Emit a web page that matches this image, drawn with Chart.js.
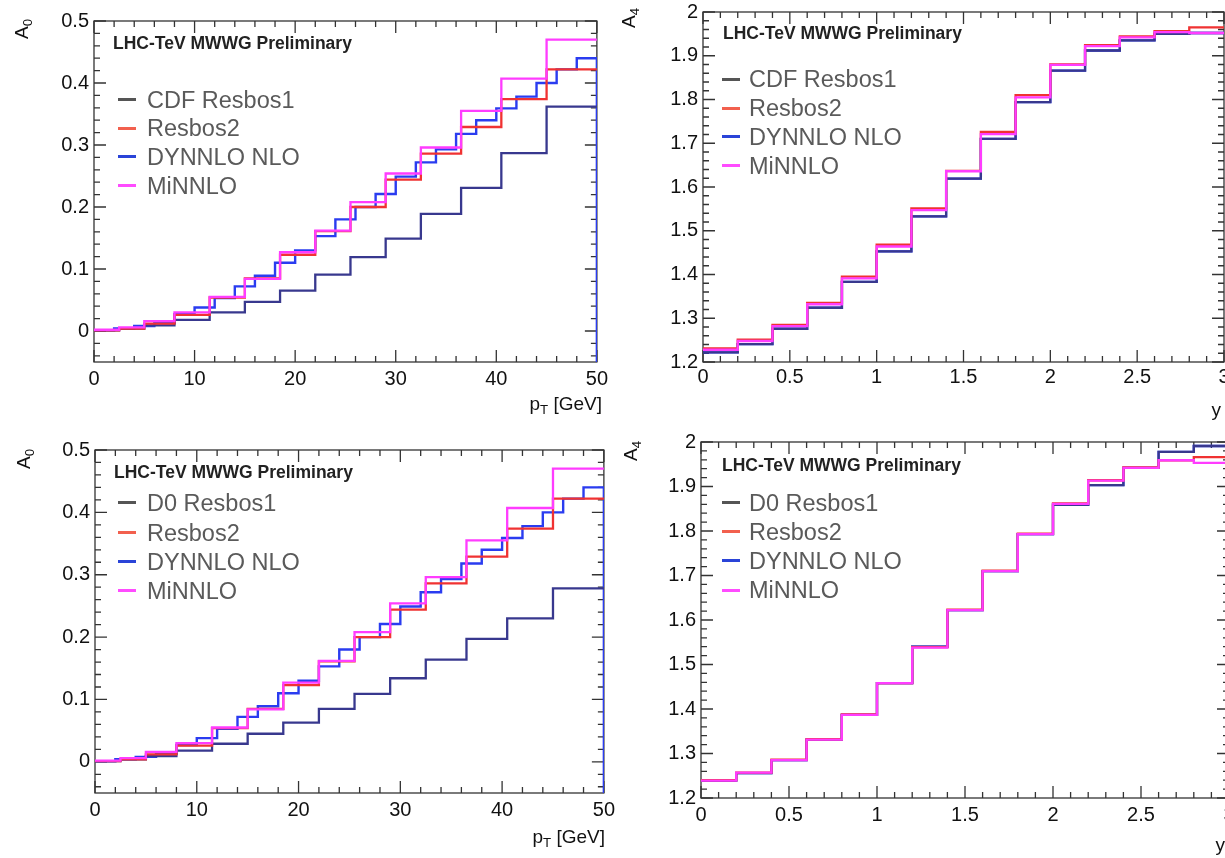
<!DOCTYPE html>
<html>
<head>
    <title>A0 / A4 comparison</title>
    <script src="https://cdn.jsdelivr.net/npm/chart.js"></script>
    <style>
        html, body {
            margin: 0;
            padding: 0;
            width: 1225px;
            height: 858px;
            overflow: hidden;
            background: #fff;
        }

        body {
            position: relative;
            font-family: "Liberation Sans", Arial, Helvetica, sans-serif;
        }

        canvas {
            position: absolute;
        }

        .tag {
            position: absolute;
            font-size: 17.5px;
            font-weight: bold;
            color: #222;
            white-space: nowrap;
            transform: translateY(-50%);
        }

        .entry {
            position: absolute;
            font-size: 23.5px;
            color: #5a5a5a;
            white-space: nowrap;
            transform: translateY(-50%);
        }

        .swatch {
            position: absolute;
            width: 18px;
            height: 3px;
        }

        .ytitle {
            position: absolute;
            font-size: 19px;
            color: #111;
            white-space: nowrap;
            transform: translate(-50%, -50%) rotate(-90deg);
        }

        .xtitle {
            position: absolute;
            font-size: 19px;
            color: #111;
            white-space: nowrap;
            transform: translate(-100%, -50%);
        }

        sub {
            font-size: 70%;
        }
    </style>
</head>

<body>
    <script>
        // bin edges
        const ptEdges = [0, 2.5, 5, 8, 11.5, 15, 18.5, 22, 25.5, 29, 32.5, 36.5, 40.5, 45, 50];
        const ptEdgesFine = [0, 2, 4, 6, 8, 10, 12, 14, 16, 18, 20, 22, 24, 26, 28, 30, 32, 34, 36, 38, 40, 42, 44, 46, 48, 50];
        const yEdges = [0, 0.2, 0.4, 0.6, 0.8, 1, 1.2, 1.4, 1.6, 1.8, 2, 2.2, 2.4, 2.6, 2.8, 3];

        // A0 vs pT
        const a0CdfResbos1 = [0.001, 0.004, 0.009, 0.018, 0.030, 0.047, 0.065, 0.091, 0.119, 0.149, 0.189, 0.231, 0.287, 0.362];
        const a0D0Resbos1 = [0.001, 0.004, 0.009, 0.018, 0.029, 0.045, 0.063, 0.085, 0.109, 0.134, 0.164, 0.197, 0.230, 0.278];
        const a0Resbos2 = [0.001, 0.004, 0.012, 0.026, 0.054, 0.085, 0.123, 0.161, 0.200, 0.244, 0.286, 0.329, 0.374, 0.422];
        const a0Minnlo = [0.002, 0.006, 0.016, 0.030, 0.055, 0.084, 0.127, 0.162, 0.208, 0.254, 0.296, 0.355, 0.407, 0.470];
        const a0Dynnlo = [0.001, 0.004, 0.008, 0.013, 0.027, 0.038, 0.053, 0.072, 0.089, 0.110, 0.130, 0.153, 0.180,
            0.200, 0.221, 0.249, 0.272, 0.293, 0.318, 0.340, 0.359, 0.378, 0.400, 0.422, 0.440];

        // A4 vs y, CDF
        const a4CdfResbos1 = [1.222, 1.241, 1.276, 1.324, 1.383, 1.453, 1.533, 1.619, 1.710, 1.794, 1.866, 1.912, 1.935, 1.950, 1.952];
        const a4CdfResbos2 = [1.231, 1.251, 1.285, 1.335, 1.395, 1.468, 1.551, 1.637, 1.726, 1.810, 1.880, 1.924, 1.944, 1.956, 1.965];
        const a4CdfDynnlo = [1.222, 1.241, 1.276, 1.324, 1.383, 1.453, 1.533, 1.619, 1.710, 1.794, 1.866, 1.912, 1.935, 1.950, 1.952];
        const a4CdfMinnlo = [1.228, 1.248, 1.282, 1.332, 1.391, 1.464, 1.547, 1.636, 1.721, 1.805, 1.879, 1.922, 1.942, 1.954, 1.952];

        // A4 vs y, D0
        const a4D0Resbos1 = [1.239, 1.256, 1.285, 1.331, 1.387, 1.458, 1.540, 1.622, 1.710, 1.793, 1.859, 1.903, 1.942, 1.978, 1.991];
        const a4D0Resbos2 = [1.240, 1.257, 1.286, 1.332, 1.388, 1.458, 1.539, 1.623, 1.711, 1.794, 1.862, 1.914, 1.943, 1.959, 1.966];
        const a4D0Dynnlo = [1.239, 1.256, 1.285, 1.331, 1.387, 1.458, 1.540, 1.622, 1.710, 1.793, 1.859, 1.903, 1.942, 1.978, 1.991];
        const a4D0Minnlo = [1.239, 1.257, 1.285, 1.331, 1.387, 1.458, 1.538, 1.622, 1.710, 1.793, 1.861, 1.913, 1.942, 1.959, 1.953];

        const FONT = '"Liberation Sans", Arial, Helvetica, sans-serif';
        const LEFT = 70, BOTTOM = 45, PAD = 15;

        const lineColor = { resbos1: '#38388e', resbos2: '#f03232', dynnlo: '#2a3cf0', minnlo: '#ff3cff' };
        const swatchColor = { resbos1: '#555555', resbos2: '#f2604e', dynnlo: '#2a44d8', minnlo: '#ff4cff' };
        // lower order is drawn on top
        const drawOrder = { minnlo: 0, resbos2: 1, resbos1: 2, dynnlo: 3 };

        const ptAxis = { min: 0, max: 50, step: 10, minor: 2 };
        const a0Axis = { min: -0.05, max: 0.5, step: 0.1, minor: 0.02 };
        const yAxis = { min: 0, max: 3, step: 0.5, minor: 0.1 };
        const a4Axis = { min: 1.2, max: 2, step: 0.1, minor: 0.02 };

        const panels = [
            {
                frame: { l: 94, t: 19, r: 598, b: 362 }, x: ptAxis, y: a0Axis, labelPad: 5,
                yTitle: { html: 'A<sub>0</sub>', cx: 23, cy: 29 },
                xTitle: { html: 'p<sub>T</sub> [GeV]', right: 602, cy: 405 },
                tag: { x: 113, y: 43 }, legend: { sw: 118, tx: 147, ys: [99.5, 128.3, 156.7, 185.7] },
                series: [
                    { key: 'resbos1', label: 'CDF Resbos1', edges: ptEdges, values: a0CdfResbos1 },
                    { key: 'resbos2', label: 'Resbos2', edges: ptEdges, values: a0Resbos2 },
                    { key: 'dynnlo', label: 'DYNNLO NLO', edges: ptEdgesFine, values: a0Dynnlo, drop: true },
                    { key: 'minnlo', label: 'MiNNLO', edges: ptEdges, values: a0Minnlo }
                ]
            },
            {
                frame: { l: 703, t: 10, r: 1224, b: 362 }, x: yAxis, y: a4Axis, labelPad: 3,
                yTitle: { html: 'A<sub>4</sub>', cx: 630, cy: 18 },
                xTitle: { html: 'y', right: 1221, cy: 410 },
                tag: { x: 723, y: 33 }, legend: { sw: 722, tx: 749, ys: [79, 108.3, 136.7, 165.7] },
                series: [
                    { key: 'resbos1', label: 'CDF Resbos1', edges: yEdges, values: a4CdfResbos1 },
                    { key: 'resbos2', label: 'Resbos2', edges: yEdges, values: a4CdfResbos2 },
                    { key: 'dynnlo', label: 'DYNNLO NLO', edges: yEdges, values: a4CdfDynnlo },
                    { key: 'minnlo', label: 'MiNNLO', edges: yEdges, values: a4CdfMinnlo }
                ]
            },
            {
                frame: { l: 95, t: 448, r: 605, b: 793 }, x: ptAxis, y: a0Axis, labelPad: 5,
                yTitle: { html: 'A<sub>0</sub>', cx: 25, cy: 459 },
                xTitle: { html: 'p<sub>T</sub> [GeV]', right: 605, cy: 838 },
                tag: { x: 114, y: 472 }, legend: { sw: 118, tx: 147, ys: [502.7, 532.7, 561.7, 590.7] },
                series: [
                    { key: 'resbos1', label: 'D0 Resbos1', edges: ptEdges, values: a0D0Resbos1 },
                    { key: 'resbos2', label: 'Resbos2', edges: ptEdges, values: a0Resbos2 },
                    { key: 'dynnlo', label: 'DYNNLO NLO', edges: ptEdgesFine, values: a0Dynnlo, drop: true },
                    { key: 'minnlo', label: 'MiNNLO', edges: ptEdges, values: a0Minnlo }
                ]
            },
            {
                frame: { l: 701, t: 440, r: 1229, b: 798 }, x: yAxis, y: a4Axis, labelPad: 5,
                yTitle: { html: 'A<sub>4</sub>', cx: 632, cy: 451 },
                xTitle: { html: 'y', right: 1225, cy: 845 },
                tag: { x: 722, y: 465 }, legend: { sw: 722, tx: 749, ys: [502.7, 531.7, 560.7, 590] },
                series: [
                    { key: 'resbos1', label: 'D0 Resbos1', edges: yEdges, values: a4D0Resbos1 },
                    { key: 'resbos2', label: 'Resbos2', edges: yEdges, values: a4D0Resbos2 },
                    { key: 'dynnlo', label: 'DYNNLO NLO', edges: yEdges, values: a4D0Dynnlo },
                    { key: 'minnlo', label: 'MiNNLO', edges: yEdges, values: a4D0Minnlo }
                ]
            }
        ];

        // ROOT style frame with inward ticks on all four sides
        const rootFrame = {
            id: 'rootFrame',
            beforeDatasetsDraw(chart, args, opts) {
                const { ctx, chartArea: a, scales: { x, y } } = chart;
                const marks = (scale, minor, major) => {
                    const out = [];
                    const k0 = Math.ceil(scale.min / minor - 1e-6);
                    const k1 = Math.floor(scale.max / minor + 1e-6);
                    for (let k = k0; k <= k1; k++) {
                        const v = k * minor;
                        const isMajor = Math.abs(v / major - Math.round(v / major)) < 1e-6;
                        out.push({ p: scale.getPixelForValue(v), len: isMajor ? 12 : 6 });
                    }
                    return out;
                };
                ctx.save();
                ctx.strokeStyle = '#333';
                ctx.lineWidth = 1.3;
                ctx.strokeRect(a.left, a.top, a.right - a.left, a.bottom - a.top);
                ctx.beginPath();
                for (const t of marks(x, opts.xMinor, opts.xMajor)) {
                    ctx.moveTo(t.p, a.bottom);
                    ctx.lineTo(t.p, a.bottom - t.len);
                    ctx.moveTo(t.p, a.top);
                    ctx.lineTo(t.p, a.top + t.len);
                }
                for (const t of marks(y, opts.yMinor, opts.yMajor)) {
                    ctx.moveTo(a.left, t.p);
                    ctx.lineTo(a.left + t.len, t.p);
                    ctx.moveTo(a.right, t.p);
                    ctx.lineTo(a.right - t.len, t.p);
                }
                ctx.stroke();
                ctx.restore();
            }
        };

        function stepPoints(edges, values, dropTo) {
            const pts = values.map((v, i) => ({ x: edges[i], y: v }));
            const last = edges[values.length];
            pts.push({ x: last, y: values[values.length - 1] });
            if (dropTo !== undefined) pts.push({ x: last, y: dropTo });
            return pts;
        }

        const fmt = v => String(Math.round(v * 100) / 100);

        function addDiv(cls, html, left, top) {
            const d = document.createElement('div');
            d.className = cls;
            d.innerHTML = html;
            d.style.left = left + 'px';
            d.style.top = top + 'px';
            document.body.appendChild(d);
            return d;
        }

        panels.forEach(p => {
            const f = p.frame;
            const canvas = document.createElement('canvas');
            canvas.width = (f.r - f.l) + LEFT + PAD;
            canvas.height = (f.b - f.t) + PAD + BOTTOM;
            canvas.style.left = (f.l - LEFT) + 'px';
            canvas.style.top = (f.t - PAD) + 'px';
            document.body.appendChild(canvas);

            const datasets = p.series.map(s => ({
                label: s.label,
                data: stepPoints(s.edges, s.values, s.drop ? p.y.min : undefined),
                borderColor: lineColor[s.key],
                borderWidth: s.drop ? 2.4 : 2.3,
                stepped: 'before',
                fill: false,
                pointRadius: 0,
                order: drawOrder[s.key]
            }));

            new Chart(canvas.getContext('2d'), {
                type: 'line',
                data: { datasets },
                plugins: [rootFrame],
                options: {
                    responsive: false,
                    animation: false,
                    events: [],
                    layout: { padding: { top: PAD, right: PAD, left: 0, bottom: 0 } },
                    plugins: {
                        legend: { display: false },
                        tooltip: { enabled: false },
                        rootFrame: { xMajor: p.x.step, xMinor: p.x.minor, yMajor: p.y.step, yMinor: p.y.minor }
                    },
                    scales: {
                        x: {
                            type: 'linear',
                            min: p.x.min,
                            max: p.x.max,
                            afterFit: s => { s.height = BOTTOM; },
                            grid: { display: false, drawTicks: false },
                            border: { display: false },
                            ticks: {
                                stepSize: p.x.step, padding: p.labelPad, color: '#111', maxRotation: 0, autoSkip: false,
                                font: { family: FONT, size: 20 }, callback: fmt
                            }
                        },
                        y: {
                            type: 'linear',
                            min: p.y.min,
                            max: p.y.max,
                            afterFit: s => { s.width = LEFT; },
                            grid: { display: false, drawTicks: false },
                            border: { display: false },
                            ticks: {
                                stepSize: p.y.step, includeBounds: false, padding: 5, color: '#111', autoSkip: false,
                                font: { family: FONT, size: 20 }, callback: fmt
                            }
                        }
                    }
                }
            });

            addDiv('ytitle', p.yTitle.html, p.yTitle.cx, p.yTitle.cy);
            addDiv('xtitle', p.xTitle.html, p.xTitle.right, p.xTitle.cy);
            addDiv('tag', 'LHC-TeV MWWG Preliminary', p.tag.x, p.tag.y);
            p.series.forEach((s, i) => {
                const sw = addDiv('swatch', '', p.legend.sw, p.legend.ys[i] - 1.5);
                sw.style.background = swatchColor[s.key];
                addDiv('entry', s.label, p.legend.tx, p.legend.ys[i]);
            });
        });
    </script>
</body>

</html>
